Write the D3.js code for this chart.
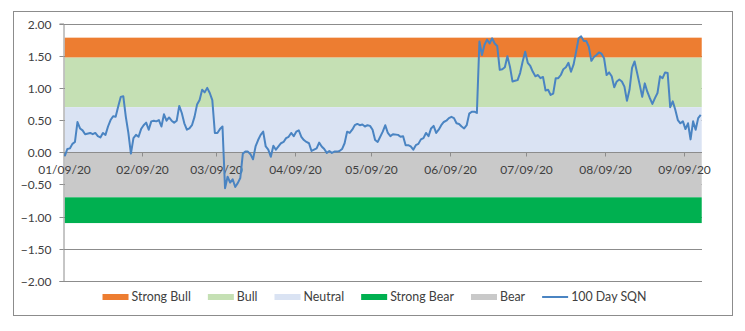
<!DOCTYPE html>
<html>
<head>
<meta charset="utf-8">
<script src="https://cdn.jsdelivr.net/npm/d3@7"></script>
<style>
  html, body { margin: 0; padding: 0; background: #fff; }
  svg { display: block; }
  text { font-family: Lato, "Liberation Sans", sans-serif; fill: #404040; }
</style>
</head>
<body>
<svg id="chart" width="745" height="331"></svg>
<script>
// ---------- DATA ----------
const dates = [
"2020-01-09","2020-01-10","2020-01-11","2020-01-12","2020-01-13","2020-01-14","2020-01-15","2020-01-16","2020-01-17","2020-01-19",
"2020-01-20","2020-01-21","2020-01-22","2020-01-23","2020-01-24","2020-01-25","2020-01-26","2020-01-27","2020-01-28","2020-01-29",
"2020-01-30","2020-01-31","2020-02-01","2020-02-02","2020-02-03","2020-02-04","2020-02-05","2020-02-06","2020-02-07","2020-02-08",
"2020-02-09","2020-02-10","2020-02-11","2020-02-12","2020-02-13","2020-02-14","2020-02-15","2020-02-16","2020-02-17","2020-02-18",
"2020-02-19","2020-02-20","2020-02-21","2020-02-22","2020-02-23","2020-02-24","2020-02-25","2020-02-26","2020-02-27","2020-02-28",
"2020-02-29","2020-03-01","2020-03-02","2020-03-03","2020-03-04","2020-03-05","2020-03-06","2020-03-07","2020-03-08","2020-03-09",
"2020-03-10","2020-03-11","2020-03-12","2020-03-13","2020-03-14","2020-03-15","2020-03-16","2020-03-17","2020-03-18","2020-03-19",
"2020-03-20","2020-03-21","2020-03-22","2020-03-23","2020-03-24","2020-03-25","2020-03-26","2020-03-27","2020-03-28","2020-03-29",
"2020-03-30","2020-03-31","2020-04-01","2020-04-02","2020-04-03","2020-04-04","2020-04-05","2020-04-06","2020-04-07","2020-04-08",
"2020-04-09","2020-04-10","2020-04-11","2020-04-12","2020-04-13","2020-04-14","2020-04-15","2020-04-16","2020-04-17","2020-04-18",
"2020-04-19","2020-04-20","2020-04-21","2020-04-22","2020-04-23","2020-04-24","2020-04-25","2020-04-26","2020-04-27","2020-04-28",
"2020-04-29","2020-04-30","2020-05-01","2020-05-02","2020-05-03","2020-05-04","2020-05-05","2020-05-06","2020-05-07","2020-05-08",
"2020-05-09","2020-05-10","2020-05-11","2020-05-13","2020-05-14","2020-05-15","2020-05-16","2020-05-17","2020-05-19","2020-05-20",
"2020-05-21","2020-05-22","2020-05-23","2020-05-24","2020-05-25","2020-05-26","2020-05-27","2020-05-28","2020-05-29","2020-05-30",
"2020-05-31","2020-06-01","2020-06-02","2020-06-03","2020-06-04","2020-06-05","2020-06-06","2020-06-07","2020-06-08","2020-06-09",
"2020-06-10","2020-06-11","2020-06-12","2020-06-13","2020-06-14","2020-06-15","2020-06-16","2020-06-17","2020-06-18","2020-06-19",
"2020-06-20","2020-06-21","2020-06-22","2020-06-23","2020-06-24","2020-06-25","2020-06-26","2020-06-27","2020-06-28","2020-06-29",
"2020-06-30","2020-07-01","2020-07-02","2020-07-03","2020-07-04","2020-07-05","2020-07-06","2020-07-07","2020-07-08","2020-07-09",
"2020-07-10","2020-07-11","2020-07-12","2020-07-13","2020-07-14","2020-07-15","2020-07-16","2020-07-17","2020-07-18","2020-07-19",
"2020-07-20","2020-07-21","2020-07-22","2020-07-23","2020-07-24","2020-07-25","2020-07-26","2020-07-27","2020-07-28","2020-07-29",
"2020-07-30","2020-07-31","2020-08-01","2020-08-02","2020-08-03","2020-08-04","2020-08-05","2020-08-06","2020-08-07","2020-08-08",
"2020-08-09","2020-08-10","2020-08-11","2020-08-12","2020-08-13","2020-08-14","2020-08-15","2020-08-16","2020-08-17","2020-08-18",
"2020-08-19","2020-08-20","2020-08-21","2020-08-22","2020-08-23","2020-08-24","2020-08-25","2020-08-26","2020-08-27","2020-08-28",
"2020-08-29","2020-08-30","2020-08-31","2020-09-01","2020-09-02","2020-09-03","2020-09-04","2020-09-05","2020-09-06","2020-09-07",
"2020-09-08","2020-09-09","2020-09-10","2020-09-11","2020-09-12","2020-09-13","2020-09-14","2020-09-15"
];
const sqn100 = [
-0.06,0.05,0.06,0.13,0.16,0.47,0.37,0.34,0.28,0.30,
0.28,0.30,0.25,0.23,0.30,0.27,0.40,0.50,0.56,0.55,
0.71,0.86,0.87,0.55,0.30,-0.02,0.22,0.27,0.24,0.36,
0.42,0.46,0.35,0.48,0.49,0.48,0.50,0.40,0.59,0.49,
0.54,0.49,0.46,0.49,0.72,0.61,0.45,0.35,0.37,0.42,
0.55,0.74,0.81,0.97,0.93,1.00,0.92,0.81,0.30,0.30,
0.36,0.40,-0.56,-0.38,-0.47,-0.42,-0.54,-0.48,-0.40,-0.02,
0.01,0.01,-0.03,-0.11,0.09,0.19,0.27,0.32,0.09,0.04,
-0.07,0.10,0.04,0.09,0.14,0.16,0.22,0.24,0.30,0.25,
0.32,0.34,0.24,0.19,0.16,0.14,0.02,0.04,0.06,0.15,
0.09,0.05,-0.01,0.02,-0.01,0.01,0.01,0.02,0.05,0.14,
0.32,0.30,0.35,0.42,0.44,0.42,0.43,0.40,0.42,0.41,
0.35,0.19,0.16,0.32,0.42,0.30,0.25,0.28,0.27,0.24,
0.25,0.11,0.11,0.09,0.04,0.11,0.13,0.20,0.22,0.30,
0.25,0.37,0.41,0.30,0.35,0.42,0.47,0.49,0.53,0.55,
0.53,0.45,0.44,0.40,0.37,0.42,0.60,0.63,0.63,0.61,
1.72,1.51,1.67,1.75,1.69,1.77,1.69,1.65,1.28,1.29,
1.32,1.49,1.33,1.10,1.11,1.12,1.23,1.41,1.56,1.39,
1.34,1.25,1.18,1.20,1.15,1.17,0.96,0.97,0.89,0.91,
1.15,1.15,1.20,1.29,1.32,1.39,1.25,1.36,1.56,1.77,
1.80,1.73,1.73,1.64,1.42,1.48,1.51,1.55,1.53,1.46,
1.20,1.24,1.18,1.01,1.10,1.13,1.10,1.02,0.80,0.97,
1.31,1.41,1.23,1.05,0.86,1.07,0.94,0.84,0.75,0.84,
0.92,1.18,1.15,1.24,1.23,0.70,0.79,0.66,0.50,0.45,
0.48,0.36,0.45,0.20,0.48,0.35,0.53,0.58
];
// regime bands (value ranges)
const bandNames = ["Strong Bull", "Bull", "Neutral", "Bear", "Strong Bear"];
const bandLow   = [1.47, 0.70, 0.00, -0.70, -1.10];
const bandHigh  = [1.78, 1.47, 0.70, 0.00, -0.70];
const yTicks = [2.0, 1.5, 1.0, 0.5, 0.0, -0.5, -1.0, -1.5, -2.0];
const xTickLabels = ["01/09/20","02/09/20","03/09/20","04/09/20","05/09/20","06/09/20","07/09/20","08/09/20","09/09/20"];
const legendOrder = ["Strong Bull", "Bull", "Neutral", "Strong Bear", "Bear", "100 Day SQN"];

// ---------- STYLE ----------
const bandColor = {
  "Strong Bull": "#ED7D31",
  "Bull": "#C5E0B4",
  "Neutral": "#DAE3F3",
  "Bear": "#C9C9C9",
  "Strong Bear": "#00B050"
};
const lineColor = "#4A84C2";
const gridColor = "#8C8C8C";

// ---------- SCALES ----------
const parse = d3.timeParse("%m/%d/%y");
const parseISO = d3.timeParse("%Y-%m-%d");
const svg = d3.select("#chart");
const pLeft = 63.5, pRight = 702, pTop = 23.5, pBottom = 281;

const x0 = parseISO(dates[0]);
const x1 = d3.timeDay.offset(parseISO(dates[dates.length - 1]), 1);
const x = d3.scaleTime().domain([x0, x1]).range([pLeft, pRight]);
const y = d3.scaleLinear().domain([-2, 2]).range([pBottom, pTop]);
const mid = d => d3.timeHour.offset(d, 12);

// outer border
svg.append("rect").attr("x", 13.5).attr("y", 11.5).attr("width", 719).attr("height", 304)
  .attr("fill", "#fff").attr("stroke", gridColor).attr("stroke-width", 1);

// gridlines
const crisp = v => Math.round(v) + 0.5;
svg.append("g").selectAll("line").data(yTicks).join("line")
  .attr("x1", pLeft).attr("x2", pRight)
  .attr("y1", d => crisp(y(d))).attr("y2", d => crisp(y(d)))
  .attr("stroke", gridColor).attr("stroke-width", 1);

// bands
const bx0 = x(mid(parseISO(dates[0])));
const bx1 = x(mid(parseISO(dates[dates.length - 1]))) + 1;
svg.append("g").selectAll("rect").data(bandNames).join("rect")
  .attr("x", bx0)
  .attr("width", bx1 - bx0)
  .attr("y", (d, i) => y(bandHigh[i]))
  .attr("height", (d, i) => y(bandLow[i]) - y(bandHigh[i]))
  .attr("fill", d => bandColor[d]);

// y axis
const yAxis = d3.axisLeft(y).tickValues(yTicks).tickFormat(d3.format(".2f")).tickSize(4).tickPadding(8);
const gy = svg.append("g").attr("transform", `translate(${crisp(pLeft) - 1},0)`).call(yAxis);
gy.select(".domain").attr("stroke", gridColor);
gy.selectAll(".tick line").attr("stroke", gridColor);
gy.selectAll(".tick").attr("transform", d => `translate(0,${crisp(y(d))})`);
gy.selectAll("text").style("font-size", "12px").attr("fill", "#404040").attr("dy", "0.36em");

// x axis at zero
const xTickDates = xTickLabels.map(parse);
const xAxis = d3.axisBottom(x).tickValues(xTickDates).tickFormat(d3.timeFormat("%m/%d/%y")).tickSize(4).tickPadding(9);
const gx = svg.append("g").attr("transform", `translate(0,${crisp(y(0))})`).call(xAxis);
gx.select(".domain").attr("stroke", gridColor).attr("d", `M${pLeft},0H${pRight}`);
gx.selectAll(".tick line").attr("stroke", gridColor);
gx.selectAll(".tick").attr("transform", d => `translate(${crisp(x(d))},0)`);
gx.selectAll("text").style("font-size", "12px").attr("fill", "#404040");

// line
const series = dates.map((d, i) => ({ date: mid(parseISO(d)), v: sqn100[i] }));
svg.append("path").datum(series)
  .attr("fill", "none").attr("stroke", lineColor).attr("stroke-width", 2)
  .attr("stroke-linejoin", "round")
  .attr("d", d3.line().x(d => x(d.date)).y(d => y(d.v)));

// legend
const lg = svg.append("g");
const swW = 26, swH = 6, gapText = 3, gapItem = 17, legY = 297;
const items = [];
legendOrder.forEach(name => {
  const g = lg.append("g");
  if (name === "100 Day SQN") {
    g.append("line").attr("x1", 0).attr("x2", swW).attr("y1", 0).attr("y2", 0)
      .attr("stroke", lineColor).attr("stroke-width", 2);
  } else {
    g.append("rect").attr("x", 0).attr("y", -swH / 2).attr("width", swW).attr("height", swH)
      .attr("fill", bandColor[name]);
  }
  const t = g.append("text").attr("x", swW + gapText).attr("y", 0).attr("dy", "0.36em")
    .style("font-size", "12.4px").text(name);
  const w = swW + gapText + t.node().getComputedTextLength();
  items.push({ g, w });
});
const total = d3.sum(items, d => d.w) + gapItem * (items.length - 1);
let startX = 374.5 - total / 2;
items.forEach(it => {
  it.g.attr("transform", `translate(${startX},${legY})`);
  startX += it.w + gapItem;
});
</script>
</body>
</html>
